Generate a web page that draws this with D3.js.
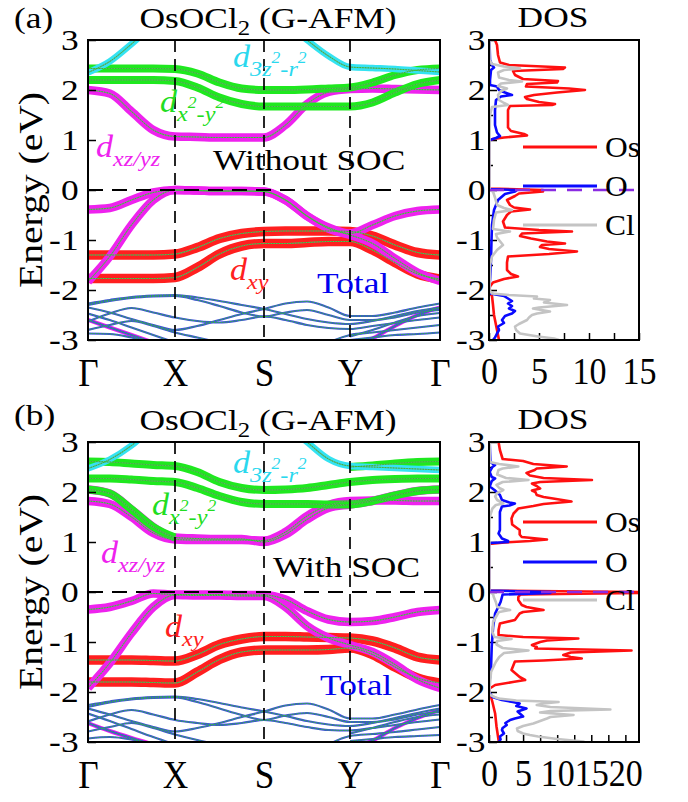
<!DOCTYPE html>
<html>
<head>
<meta charset="utf-8">
<script src="https://cdn.jsdelivr.net/npm/d3@7"></script>
<style>
  body { margin: 0; background: #fff; }
  svg { display: block; }
  text { font-family: "Liberation Serif", "Times New Roman", serif; }
</style>
</head>
<body>
<svg id="chart" width="688" height="802"></svg>
<script>
// ---------- k-path and tick labels ----------
const kGrid = [0, 0.25, 0.5, 0.75, 1, 1.25, 1.5, 1.75, 2, 2.25, 2.5, 2.75, 3, 3.25, 3.5, 3.75, 4];
const kTicks = [0, 1, 2, 3, 4];
const kLabels = ["Γ", "X", "S", "Y", "Γ"];
const energyTicks = [-3, -2, -1, 0, 1, 2, 3];
const dosTicksA = [0, 5, 10, 15];
const dosTicksB = [0, 5, 10, 15, 20];
const legendNames = ["Os", "O", "Cl"];
const _ = null;

// ---------- (a) without SOC: band energies (eV) on kGrid ----------
const aCyan = [
  [2.35, 2.57, 2.92, 3.30, 3.60, _, _, _, _, _, _, _, _, _, _, _, _],
  [_, _, _, _, _, _, _, _, 3.70, 3.35, 3.00, 2.68, 2.46, 2.44, 2.42, 2.39, 2.36]
];
const aGreen = [
  [2.43, 2.43, 2.43, 2.43, 2.42, 2.33, 2.15, 2.03, 2.00, 2.00, 2.01, 2.03, 2.05, 2.15, 2.30, 2.40, 2.43],
  [2.20, 2.20, 2.20, 2.20, 2.18, 2.05, 1.85, 1.72, 1.67, 1.67, 1.67, 1.67, 1.67, 1.75, 1.95, 2.12, 2.20]
];
const aMagenta = [
  [2.00, 1.93, 1.57, 1.20, 1.07, 1.06, 1.05, 1.05, 1.05, 1.30, 1.72, 1.96, 2.02, 2.03, 2.02, 2.01, 2.00],
  [-0.39, -0.36, -0.20, -0.05, 0.00, -0.01, -0.02, -0.02, -0.03, -0.20, -0.52, -0.75, -0.87, -0.70, -0.52, -0.42, -0.39],
  [-1.83, -1.33, -0.70, -0.20, 0.00, -0.01, -0.02, -0.02, -0.03, -0.20, -0.52, -0.77, -0.90, -1.07, -1.37, -1.65, -1.82]
];
const aRed = [
  [-1.30, -1.30, -1.30, -1.30, -1.28, -1.15, -0.97, -0.87, -0.83, -0.82, -0.82, -0.82, -0.83, -0.92, -1.10, -1.25, -1.30],
  [-1.77, -1.77, -1.77, -1.77, -1.75, -1.55, -1.28, -1.12, -1.07, -1.07, -1.05, -1.03, -1.03, -1.20, -1.45, -1.68, -1.78]
];
const aTotal = [
  [-2.27, -2.20, -2.14, -2.11, -2.10, -2.15, -2.22, -2.30, -2.38, -2.48, -2.58, -2.65, -2.68, -2.62, -2.52, -2.42, -2.35],
  [-2.35, -2.45, -2.58, -2.70, -2.80, -2.72, -2.60, -2.48, -2.38, -2.27, -2.23, -2.35, -2.52, -2.52, -2.45, -2.35, -2.27],
  [-2.30, -2.22, -2.16, -2.13, -2.12, -2.20, -2.32, -2.45, -2.53, -2.45, -2.40, -2.50, -2.60, -2.60, -2.55, -2.45, -2.40],
  [-2.63, -2.47, -2.36, -2.45, -2.55, -2.62, -2.65, -2.60, -2.53, -2.60, -2.70, -2.76, -2.78, -2.72, -2.66, -2.60, -2.55],
  [-2.80, -2.70, -2.62, -2.72, -2.85, -2.95, -3.05, _, _, _, _, -3.05, -2.90, -2.85, -2.80, -2.75, -2.70],
  [-2.87, -2.88, -2.95, -3.05, _, _, _, _, _, _, _, _, -3.00, -2.95, -2.90, -2.88, -2.85],
  [-2.47, -2.60, -2.75, -2.90, -3.05, _, _, _, _, _, _, _, -2.93, -2.80, -2.65, -2.52, -2.46]
];
const aMagThin = [
  [-2.60, -2.75, -2.90, -3.05, _, _, _, _, _, _, _, _, -3.20, -2.97, -2.72, -2.50, -2.35]
];

// ---------- (b) with SOC ----------
const bCyan = [
  [2.47, 2.65, 2.93, 3.30, 3.60, _, _, _, _, _, _, _, _, _, _, _, _],
  [_, _, _, _, _, _, _, _, 3.70, 3.35, 3.00, 2.66, 2.52, 2.50, 2.48, 2.46, 2.44]
];
const bGreen = [
  [2.61, 2.60, 2.57, 2.54, 2.52, 2.40, 2.20, 2.08, 2.04, 2.05, 2.08, 2.14, 2.20, 2.24, 2.26, 2.27, 2.27],
  [2.27, 2.27, 2.25, 2.22, 2.20, 2.08, 1.92, 1.80, 1.76, 1.76, 1.76, 1.75, 1.75, 1.82, 1.93, 2.02, 2.05],
  [_, _, _, _, _, _, _, _, _, _, _, _, 2.50, 2.53, 2.57, 2.60, 2.61],
  [2.05, 1.97, 1.65, 1.30, 1.09, _, _, _, _, _, _, _, _, _, _, _, _]
];
const bMagenta = [
  [1.82, 1.76, 1.50, 1.18, 1.05, 1.04, 1.04, 1.04, 1.03, 1.20, 1.52, 1.74, 1.82, 1.83, 1.83, 1.82, 1.82],
  [2.05, 1.97, 1.65, 1.30, 1.09, 1.07, 1.06, 1.06, 1.00, 1.15, 1.45, 1.68, 1.75, 1.82, 1.93, 2.02, 2.05],
  [-0.35, -0.30, -0.18, -0.03, -0.05, -0.05, -0.05, -0.06, -0.06, -0.15, -0.38, -0.55, -0.60, -0.58, -0.50, -0.40, -0.36],
  [-1.92, -1.42, -0.82, -0.30, -0.06, -0.07, -0.07, -0.08, -0.08, -0.30, -0.68, -0.92, -1.06, -1.20, -1.45, -1.75, -1.92]
];
const bRed = [
  [-1.36, -1.36, -1.36, -1.37, -1.38, -1.25, -1.05, -0.94, -0.89, -0.89, -0.90, -0.91, -0.92, -0.98, -1.12, -1.30, -1.36],
  [-1.80, -1.80, -1.80, -1.81, -1.82, -1.60, -1.35, -1.20, -1.16, -1.16, -1.16, -1.15, -1.12, -1.25, -1.50, -1.72, -1.82]
];
const bTotal = [
  [-2.26, -2.19, -2.13, -2.10, -2.09, -2.14, -2.22, -2.31, -2.39, -2.48, -2.58, -2.65, -2.68, -2.62, -2.52, -2.42, -2.33],
  [-2.33, -2.45, -2.58, -2.70, -2.79, -2.72, -2.62, -2.50, -2.39, -2.27, -2.23, -2.35, -2.53, -2.53, -2.45, -2.35, -2.26],
  [-2.30, -2.21, -2.15, -2.12, -2.11, -2.20, -2.33, -2.46, -2.56, -2.47, -2.42, -2.50, -2.60, -2.60, -2.55, -2.45, -2.40],
  [-2.59, -2.45, -2.36, -2.45, -2.56, -2.62, -2.66, -2.62, -2.56, -2.62, -2.70, -2.76, -2.77, -2.72, -2.66, -2.60, -2.55],
  [-2.79, -2.70, -2.62, -2.72, -2.85, -2.96, -3.05, _, _, _, _, -3.05, -2.88, -2.84, -2.80, -2.75, -2.70],
  [-2.93, -2.90, -2.95, -3.05, _, _, _, _, _, _, _, _, -2.98, -2.94, -2.90, -2.88, -2.86],
  [-2.43, -2.58, -2.74, -2.90, -3.05, _, _, _, _, _, _, _, -2.83, -2.72, -2.60, -2.50, -2.45]
];
const bMagThin = [
  [-2.62, -2.78, -2.92, -3.05, _, _, _, _, _, _, _, _, -3.15, -2.97, -2.72, -2.52, -2.36]
];

// ---------- projected DOS: [energy (eV), states/eV] ----------
const dosOsA = [[3.0,0.6],[2.9,0.8],[2.7,0.9],[2.55,1.1],[2.5,2.0],[2.45,7.6],[2.42,7.4],[2.38,2.4],[2.3,2.6],[2.22,3.4],[2.18,6.9],[2.15,6.8],[2.12,3.8],[2.07,3.7],[2.03,8.0],[2.0,9.6],[1.95,6.8],[1.9,4.5],[1.86,3.6],[1.82,3.8],[1.76,5.0],[1.72,6.6],[1.7,6.3],[1.68,2.1],[1.6,1.9],[1.4,1.9],[1.25,1.9],[1.18,2.2],[1.12,3.5],[1.09,3.8],[1.05,1.5],[1.02,0.4],[0.99,0.0],[0.03,0.0],[0.0,5.4],[-0.03,5.4],[-0.07,3.0],[-0.12,2.6],[-0.2,1.8],[-0.3,2.1],[-0.35,2.5],[-0.39,4.1],[-0.43,2.2],[-0.5,1.8],[-0.63,1.4],[-0.75,1.6],[-0.8,5.0],[-0.83,8.3],[-0.87,3.3],[-0.92,3.1],[-0.97,4.2],[-1.03,5.8],[-1.07,7.6],[-1.1,5.3],[-1.14,5.1],[-1.18,6.0],[-1.23,8.8],[-1.28,6.0],[-1.33,1.9],[-1.45,1.8],[-1.6,1.8],[-1.68,2.2],[-1.73,2.9],[-1.78,1.5],[-1.85,0.4],[-1.93,0.1],[-2.05,0.0],[-2.12,0.3],[-2.3,0.4],[-2.5,0.5],[-2.7,0.7],[-2.9,0.9],[-3.0,1.0]];
const dosOA = [[3.0,0.05],[2.6,0.1],[2.5,0.3],[2.45,0.5],[2.4,0.2],[2.2,0.1],[2.1,0.1],[2.07,0.8],[2.0,1.0],[1.95,1.6],[1.9,2.3],[1.87,1.2],[1.8,0.7],[1.6,0.6],[1.3,0.6],[1.15,0.8],[1.08,1.1],[1.04,0.7],[1.0,0.1],[0.98,0.0],[0.02,0.0],[0.0,2.8],[-0.03,2.6],[-0.08,1.6],[-0.2,0.9],[-0.4,0.5],[-0.7,0.3],[-1.0,0.25],[-1.4,0.2],[-1.8,0.1],[-2.0,0.0],[-2.07,0.1],[-2.12,1.5],[-2.17,1.9],[-2.22,2.3],[-2.27,1.9],[-2.32,2.3],[-2.37,2.0],[-2.42,2.6],[-2.47,2.3],[-2.52,1.6],[-2.6,1.3],[-2.66,1.5],[-2.73,0.9],[-2.8,1.0],[-2.87,0.8],[-2.95,0.6],[-3.0,0.4]];
const dosClA = [[3.0,0.05],[2.6,0.05],[2.52,0.3],[2.47,1.5],[2.43,3.1],[2.4,1.5],[2.35,0.9],[2.25,1.0],[2.2,2.0],[2.17,3.3],[2.13,1.2],[2.08,0.9],[2.03,1.8],[1.98,1.2],[1.9,0.9],[1.8,1.0],[1.74,1.5],[1.7,1.9],[1.66,0.3],[1.5,0.1],[1.0,0.05],[0.0,0.05],[-0.03,0.4],[-0.15,0.6],[-0.3,0.8],[-0.36,1.5],[-0.4,2.3],[-0.45,0.7],[-0.6,0.5],[-0.78,0.4],[-0.83,2.1],[-0.88,0.7],[-0.95,0.8],[-1.05,1.2],[-1.1,1.4],[-1.2,0.8],[-1.33,0.3],[-1.5,0.1],[-2.0,0.05],[-2.07,0.3],[-2.1,2.0],[-2.13,4.8],[-2.17,4.5],[-2.2,6.1],[-2.25,5.5],[-2.3,7.8],[-2.35,5.0],[-2.37,4.4],[-2.43,6.1],[-2.47,4.8],[-2.5,4.3],[-2.55,4.0],[-2.6,3.8],[-2.68,3.0],[-2.73,2.6],[-2.8,2.7],[-2.87,3.1],[-2.93,4.9],[-2.97,6.5],[-3.0,7.0]];

const dosOsB = [[3.0,1.4],[2.84,1.6],[2.66,2.0],[2.62,5.0],[2.56,6.5],[2.51,11.4],[2.47,7.0],[2.44,6.7],[2.38,5.5],[2.33,6.0],[2.28,8.0],[2.24,15.1],[2.2,7.5],[2.17,6.3],[2.12,7.0],[2.07,7.5],[2.03,6.3],[2.0,6.8],[1.94,7.0],[1.9,8.0],[1.87,9.4],[1.81,12.1],[1.76,8.0],[1.72,6.5],[1.67,4.3],[1.57,3.6],[1.47,3.3],[1.35,3.4],[1.24,4.5],[1.15,4.5],[1.1,4.8],[1.05,8.5],[1.02,6.0],[0.99,2.3],[0.96,0.0],[0.03,0.0],[0.0,22.0],[-0.02,22.0],[-0.05,4.6],[-0.1,4.3],[-0.16,4.3],[-0.26,4.8],[-0.3,5.5],[-0.36,8.0],[-0.4,5.0],[-0.43,4.5],[-0.56,3.8],[-0.63,1.6],[-0.76,1.4],[-0.86,1.4],[-0.9,5.0],[-0.93,13.1],[-0.97,8.5],[-1.0,7.5],[-1.06,6.3],[-1.1,7.0],[-1.13,6.8],[-1.17,20.9],[-1.21,12.0],[-1.26,10.9],[-1.3,12.0],[-1.33,13.6],[-1.37,8.0],[-1.39,3.8],[-1.56,3.3],[-1.7,4.5],[-1.76,5.3],[-1.8,3.5],[-1.86,0.9],[-1.93,0.1],[-2.05,0.0],[-2.1,0.3],[-2.2,0.5],[-2.43,0.9],[-2.69,1.1],[-2.96,1.4],[-3.0,1.5]];
const dosOB = [[3.0,0.1],[2.6,0.2],[2.56,0.6],[2.54,0.9],[2.5,0.5],[2.4,0.1],[2.3,0.4],[2.27,0.9],[2.22,0.4],[2.11,0.1],[2.04,0.8],[1.94,1.6],[1.84,1.9],[1.79,3.0],[1.77,3.8],[1.73,3.0],[1.71,1.9],[1.6,1.6],[1.4,1.6],[1.24,1.6],[1.17,1.4],[1.07,1.9],[1.02,2.8],[1.0,2.8],[0.98,0.2],[0.96,0.0],[0.03,0.0],[0.0,9.0],[-0.02,9.0],[-0.05,2.0],[-0.1,1.9],[-0.2,1.7],[-0.43,0.9],[-0.7,0.6],[-1.09,0.4],[-1.5,0.3],[-1.76,0.1],[-2.0,0.0],[-2.1,0.5],[-2.16,1.9],[-2.2,3.5],[-2.23,4.5],[-2.28,4.0],[-2.33,5.5],[-2.39,4.2],[-2.44,4.6],[-2.49,5.0],[-2.53,3.8],[-2.56,3.1],[-2.62,2.4],[-2.66,2.6],[-2.72,2.0],[-2.76,1.9],[-2.83,2.2],[-2.89,1.6],[-2.95,1.7],[-3.0,1.4]];
const dosClB = [[3.0,0.1],[2.6,0.1],[2.56,1.5],[2.51,4.3],[2.47,2.0],[2.44,1.4],[2.35,1.2],[2.28,2.5],[2.24,5.8],[2.2,2.0],[2.14,1.1],[2.08,1.5],[2.04,2.1],[1.98,1.2],[1.91,0.9],[1.84,1.2],[1.77,2.1],[1.74,1.0],[1.67,0.5],[1.5,0.1],[1.0,0.05],[0.0,0.05],[-0.04,0.6],[-0.1,0.7],[-0.2,1.0],[-0.3,1.2],[-0.36,3.1],[-0.4,1.5],[-0.43,1.3],[-0.6,0.6],[-0.8,0.5],[-0.9,0.8],[-0.94,3.3],[-0.98,1.2],[-1.05,1.1],[-1.12,2.0],[-1.17,5.8],[-1.22,2.2],[-1.3,1.5],[-1.4,1.0],[-1.6,0.3],[-1.9,0.1],[-2.05,0.05],[-2.1,0.8],[-2.13,1.4],[-2.17,4.0],[-2.2,10.2],[-2.23,8.0],[-2.26,7.0],[-2.3,9.0],[-2.35,17.8],[-2.38,9.0],[-2.41,7.5],[-2.46,12.4],[-2.5,9.0],[-2.53,8.5],[-2.58,7.5],[-2.63,6.5],[-2.68,5.0],[-2.73,4.1],[-2.78,4.2],[-2.83,5.0],[-2.86,6.0],[-2.89,7.2],[-2.94,10.0],[-2.99,13.8],[-3.0,14.0]];

// ---------- styling ----------
const SX = 1.18;                       // horizontal stretch of the serif glyphs
const C = { cyan: "#33e3f2", green: "#1fe81f", magenta: "#ee22ee", red: "#ff1f1f",
            total: "#3f4fd8", dot: "#2ec82e", os: "#ff1010", o: "#0a0aff", cl: "#c4c4c4", ef: "#8a2be2" };
const BAND_X = [88, 175, 264, 350, 440];
const DOS_X = [489, 639];

const panels = [
  { id: "a", top: 40, tag: "(a)", tagY: 28, soc: "Without SOC", dosMax: 15, dosTicks: dosTicksA,
    cyan: aCyan, green: aGreen, magenta: aMagenta, red: aRed, thin: aTotal, thinMag: aMagThin,
    dos: [dosOsA, dosOA, dosClA],
    pos: { d3z: [233, 67], dx2: [160, 112], dxz: [96, 157], soc: [213, 170], dxy: [230, 280], total: [317, 293], legend: [147, 186, 225] } },
  { id: "b", top: 442, tag: "(b)", tagY: 425, soc: "With SOC", dosMax: 22, dosTicks: dosTicksB,
    cyan: bCyan, green: bGreen, magenta: bMagenta, red: bRed, thin: bTotal, thinMag: bMagThin,
    dos: [dosOsB, dosOB, dosClB],
    pos: { d3z: [233, 473], dx2: [152, 515], dxz: [101, 563], soc: [273, 577], dxy: [165, 637], total: [320, 695], legend: [522, 562, 600] } }
];

const svg = d3.select("#chart");
const defs = svg.append("defs");

function txt(g, x, y, s, size, o = {}) {
  const tr = `translate(${x},${y})` + (o.rotate ? ` rotate(${o.rotate})` : "") + ` scale(${o.sx ?? SX},1)`;
  return g.append("text").attr("transform", tr).attr("font-size", size)
    .attr("text-anchor", o.anchor || "start").attr("fill", o.fill || "#000")
    .attr("font-style", o.italic ? "italic" : null).text(s);
}

// italic d with orbital subscript; parts: [text, isSuperscript]
function orbital(g, x, y, parts, color) {
  const t = g.append("text").attr("transform", `translate(${x},${y}) scale(1.1,1)`)
    .attr("fill", color).attr("font-style", "italic").attr("font-size", 31);
  t.append("tspan").text("d");
  let cur = 0;
  parts.forEach(([s, sup]) => {
    const target = sup ? -4 : 9;
    t.append("tspan").attr("font-size", sup ? 16 : 22).attr("dy", target - cur).text(s);
    cur = target;
  });
}

panels.forEach(p => {
  const y = d3.scaleLinear().domain([-3, 3]).range([p.top + 300, p.top]);
  const x = d3.scaleLinear().domain(kTicks).range(BAND_X);
  const g = svg.append("g");

  defs.append("clipPath").attr("id", "clipB" + p.id).append("rect")
    .attr("x", BAND_X[0]).attr("y", p.top).attr("width", BAND_X[4] - BAND_X[0]).attr("height", 300);
  const plot = g.append("g").attr("clip-path", `url(#clipB${p.id})`);
  const line = d3.line().defined(d => d[1] != null).x(d => x(d[0])).y(d => y(d[1])).curve(d3.curveMonotoneX);
  const pts = arr => kGrid.map((k, i) => [k, arr[i]]);

  // thin total bands
  const thinAll = p.thin.concat(p.thinMag);
  plot.selectAll(null).data(p.thinMag).join("path").attr("d", d => line(pts(d)))
    .attr("fill", "none").attr("stroke", C.magenta).attr("stroke-width", 4);
  plot.selectAll(null).data(thinAll).join("path").attr("d", d => line(pts(d)))
    .attr("fill", "none").attr("stroke", C.total).attr("stroke-width", 2.2);
  plot.selectAll(null).data(thinAll).join("path").attr("d", d => line(pts(d)))
    .attr("fill", "none").attr("stroke", C.dot).attr("stroke-width", 0.9).attr("stroke-dasharray", "1.5,1.2");

  // fat (orbital-projected) bands
  const fat = [[p.red, C.red, 9.5], [p.magenta, C.magenta, 8.5], [p.green, C.green, 8], [p.cyan, C.cyan, 6.5]];
  fat.forEach(([set, col, w]) => {
    plot.selectAll(null).data(set).join("path").attr("d", d => line(pts(d)))
      .attr("fill", "none").attr("stroke", col).attr("stroke-width", w).attr("stroke-linecap", "butt");
  });
  const fatAll = [].concat(p.red, p.magenta, p.green, p.cyan);
  plot.selectAll(null).data(fatAll).join("path").attr("d", d => line(pts(d)))
    .attr("fill", "none").attr("stroke", "#7a9a7a").attr("stroke-width", 1.1).attr("stroke-opacity", 0.8);
  plot.selectAll(null).data(fatAll).join("path").attr("d", d => line(pts(d)))
    .attr("fill", "none").attr("stroke", C.dot).attr("stroke-width", 1).attr("stroke-dasharray", "1.5,1.2");

  // high-symmetry and Fermi-level guides
  plot.selectAll(null).data(kTicks.slice(1, 4)).join("line")
    .attr("x1", d => x(d)).attr("x2", d => x(d)).attr("y1", p.top).attr("y2", p.top + 300)
    .attr("stroke", "#000").attr("stroke-width", 1.7).attr("stroke-dasharray", "12,7");
  plot.append("line").attr("x1", BAND_X[0]).attr("x2", BAND_X[4]).attr("y1", y(0)).attr("y2", y(0))
    .attr("stroke", "#000").attr("stroke-width", 2).attr("stroke-dasharray", "15,9");

  // axes
  const ay = g.append("g").attr("transform", `translate(${BAND_X[0]},0)`)
    .call(d3.axisLeft(y).tickValues(energyTicks).tickSize(-8).tickPadding(8).tickFormat(d => String(d)));
  const ax = g.append("g").attr("transform", `translate(0,${p.top + 300})`)
    .call(d3.axisBottom(x).tickValues(kTicks).tickSize(0).tickPadding(17).tickFormat((d, i) => kLabels[i]));
  [ay, ax].forEach(a => { a.select(".domain").remove(); a.selectAll("line").attr("stroke-width", 1.5); });
  ay.selectAll("text").attr("font-size", 30).attr("font-family", null).attr("fill", "#000").attr("transform", `scale(${SX},1)`);
  ax.selectAll("text").attr("font-size", 41).attr("font-family", null).attr("fill", "#000").attr("transform", "scale(0.86,1)");
  g.append("rect").attr("x", BAND_X[0]).attr("y", p.top).attr("width", BAND_X[4] - BAND_X[0]).attr("height", 300)
    .attr("fill", "none").attr("stroke", "#000").attr("stroke-width", 2);

  // titles and labels
  txt(g, 14, p.tagY, p.tag, 30);
  const title = g.append("text").attr("transform", `translate(268,${p.top - 12}) scale(${SX},1)`)
    .attr("font-size", 30).attr("text-anchor", "middle");
  title.append("tspan").text("OsOCl");
  title.append("tspan").attr("font-size", 21).attr("dy", 7).text("2");
  title.append("tspan").attr("dy", -7).text(" (G-AFM)");
  txt(g, 42, p.top + 150, "Energy (eV)", 33, { rotate: -90, anchor: "middle", sx: 1.2 });

  orbital(g, p.pos.d3z[0], p.pos.d3z[1], [["3z", 0], ["2", 1], ["-r", 0], ["2", 1]], "#2ad8ee");
  orbital(g, p.pos.dx2[0], p.pos.dx2[1], [["x", 0], ["2", 1], ["-y", 0], ["2", 1]], "#22dd22");
  orbital(g, p.pos.dxz[0], p.pos.dxz[1], [["xz/yz", 0]], "#ee22ee");
  orbital(g, p.pos.dxy[0], p.pos.dxy[1], [["xy", 0]], "#ff2020");
  txt(g, p.pos.soc[0], p.pos.soc[1], p.soc, 30);
  txt(g, p.pos.total[0], p.pos.total[1], "Total", 30, { fill: "#0000ee" });

  // ---------- DOS panel ----------
  const xd = d3.scaleLinear().domain([0, p.dosMax]).range(DOS_X);
  const gd = svg.append("g");
  defs.append("clipPath").attr("id", "clipD" + p.id).append("rect")
    .attr("x", DOS_X[0]).attr("y", p.top).attr("width", DOS_X[1] - DOS_X[0]).attr("height", 300);

  const dy1 = gd.append("g").attr("transform", `translate(${DOS_X[0]},0)`)
    .call(d3.axisLeft(y).tickValues(energyTicks).tickSize(-8).tickPadding(3).tickFormat(d => String(d)));
  const dy2 = gd.append("g").attr("transform", `translate(${DOS_X[0]},0)`)
    .call(d3.axisLeft(y).tickValues([-2.5, -1.5, -0.5, 0.5, 1.5, 2.5]).tickSize(-4).tickFormat(""));
  const minor = d3.range(0, p.dosMax + 0.001, 2.5);
  const dx1 = gd.append("g").attr("transform", `translate(0,${p.top + 300})`)
    .call(d3.axisBottom(xd).tickValues(minor).tickSize(-7).tickPadding(18)
      .tickFormat(d => p.dosTicks.includes(d) ? String(d) : ""));
  [dy1, dy2, dx1].forEach(a => { a.select(".domain").remove(); a.selectAll("line").attr("stroke-width", 1.5); });
  dy1.selectAll("text").attr("font-size", 30).attr("font-family", null).attr("fill", "#000").attr("transform", `scale(${SX},1)`);
  dx1.selectAll("text").attr("font-size", 37).attr("font-family", null).attr("fill", "#000").attr("transform", "scale(0.92,1)");

  const dplot = gd.append("g").attr("clip-path", `url(#clipD${p.id})`);
  const dline = d3.line().x(d => xd(d[1])).y(d => y(d[0]));
  const dcol = [C.os, C.o, C.cl];
  p.dos.forEach((s, i) => {
    dplot.append("path").attr("d", dline(s)).attr("fill", "none").attr("stroke", dcol[i])
      .attr("stroke-width", 2.6).attr("stroke-linejoin", "round");
  });
  dplot.append("line").attr("x1", DOS_X[0]).attr("x2", DOS_X[1]).attr("y1", y(0)).attr("y2", y(0))
    .attr("stroke", C.ef).attr("stroke-width", 2.6).attr("stroke-dasharray", "15,11");

  gd.append("rect").attr("x", DOS_X[0]).attr("y", p.top).attr("width", DOS_X[1] - DOS_X[0]).attr("height", 300)
    .attr("fill", "none").attr("stroke", "#000").attr("stroke-width", 2);
  txt(gd, 553, p.top - 13, "DOS", 30, { anchor: "middle" });

  // legend
  legendNames.forEach((n, i) => {
    const ly = p.pos.legend[i];
    gd.append("line").attr("x1", 523).attr("x2", 597).attr("y1", ly).attr("y2", ly)
      .attr("stroke", dcol[i]).attr("stroke-width", 3);
    txt(gd, 605, ly + 10, n, 30, { sx: 1.05 });
  });
});
</script>
</body>
</html>
